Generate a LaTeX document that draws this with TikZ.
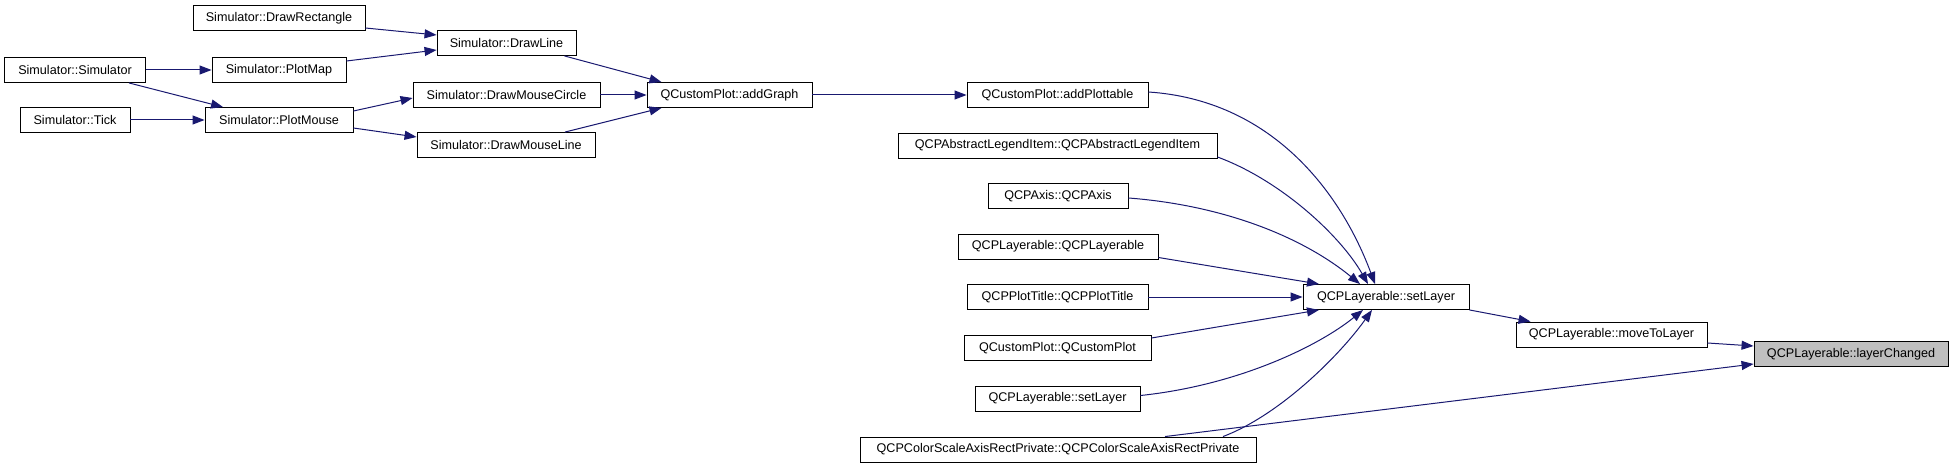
\documentclass[tikz,border=0pt]{standalone}
\usepackage{fontspec}
\setmainfont{Liberation Sans}
\usetikzlibrary{arrows.meta}
\definecolor{edgecol}{HTML}{191970}
\definecolor{rootfill}{HTML}{BFBFBF}
\tikzset{
  fn/.style={draw=black, fill=white, line width=0.9pt, minimum height=25pt, inner sep=0pt,
    font=\fontsize{12.6}{14}\selectfont},
  edge/.style={draw=edgecol, line width=1pt, -{Triangle[length=12pt,width=9pt]}},
}
\begin{document}
\begin{tikzpicture}[x=1pt,y=-1pt]
\useasboundingbox (0,0) rectangle (1953,468);
% nodes
\node[fn, minimum width=172pt] (DR) at (279,18) {Simulator::DrawRectangle};
\node[fn, minimum width=139pt] (DL) at (506.5,43) {Simulator::DrawLine};
\node[fn, minimum width=141pt] (SS) at (75,70) {Simulator::Simulator};
\node[fn, minimum width=134pt] (PM) at (279,70) {Simulator::PlotMap};
\node[fn, minimum width=187pt] (DMC) at (506.5,95) {Simulator::DrawMouseCircle};
\node[fn, minimum width=110pt] (TK) at (75,120) {Simulator::Tick};
\node[fn, minimum width=148pt] (PMo) at (279,120) {Simulator::PlotMouse};
\node[fn, minimum width=178pt] (DML) at (506,145) {Simulator::DrawMouseLine};
\node[fn, minimum width=165pt] (AG) at (729.5,95) {QCustomPlot::addGraph};
\node[fn, minimum width=181pt] (AP) at (1057.5,95) {QCustomPlot::addPlottable};
\node[fn, minimum width=319pt] (LI) at (1057.5,145.5) {QCPAbstractLegendItem::QCPAbstractLegendItem};
\node[fn, minimum width=140pt] (AX) at (1058,196) {QCPAxis::QCPAxis};
\node[fn, minimum width=200pt] (QL) at (1058,246.5) {QCPLayerable::QCPLayerable};
\node[fn, minimum width=181pt] (PT) at (1057.5,297) {QCPPlotTitle::QCPPlotTitle};
\node[fn, minimum width=166pt] (SL) at (1386,297) {QCPLayerable::setLayer};
\node[fn, minimum width=187pt] (QC) at (1057.5,348) {QCustomPlot::QCustomPlot};
\node[fn, minimum width=165pt] (SL2) at (1057.5,398.5) {QCPLayerable::setLayer};
\node[fn, minimum width=396pt] (CS) at (1058,449.5) {QCPColorScaleAxisRectPrivate::QCPColorScaleAxisRectPrivate};
\node[fn, minimum width=191pt] (MTL) at (1611.5,334.5) {QCPLayerable::moveToLayer};
\node[fn, minimum width=194pt, fill=rootfill] (LC) at (1851,354) {QCPLayerable::layerChanged};
% edges
\draw[edge] ([yshift=-10pt]DR.east) -- ([yshift=8pt]DL.west);
\draw[edge] ([yshift=9pt]PM.east) -- ([yshift=-7pt]DL.west);
\draw[edge] (SS.east) -- (PM.west);
\draw[edge] ([xshift=54pt]SS.south) -- ([xshift=-56pt]PMo.north);
\draw[edge] (TK.east) -- (PMo.west);
\draw[edge] ([yshift=9pt]PMo.east) -- ([yshift=-3pt]DMC.west);
\draw[edge] ([yshift=-8pt]PMo.east) -- ([yshift=8pt]DML.west);
\draw[edge] ([xshift=58pt]DL.south) -- ([xshift=-68pt]AG.north);
\draw[edge] (DMC.east) -- (AG.west);
\draw[edge] ([xshift=59pt]DML.north) -- ([xshift=-68pt]AG.south);
\draw[edge] (AG.east) -- (AP.west);
\draw[edge] ([yshift=3pt]AP.east) .. controls (1270,100) and (1340,190) .. ([xshift=-11pt]SL.north);
\draw[edge] ([yshift=-11.5pt]LI.east) .. controls (1280,180) and (1340,235) .. ([xshift=-18pt]SL.north);
\draw[edge] ([yshift=-2pt]AX.east) .. controls (1220,205) and (1300,235) .. ([xshift=-26pt]SL.north);
\draw[edge] ([yshift=-11pt]QL.east) -- ([xshift=-67pt]SL.north);
\draw[edge] (PT.east) -- (SL.west);
\draw[edge] ([yshift=10pt]QC.east) -- ([xshift=-67pt]SL.south);
\draw[edge] ([yshift=3pt]SL2.east) .. controls (1240,385) and (1320,345) .. ([xshift=-23pt]SL.south);
\draw[edge] ([xshift=165pt]CS.north) .. controls (1280,415) and (1340,355) .. ([xshift=-14pt]SL.south);
\draw[edge] (SL.south east) -- ([xshift=-81pt]MTL.north);
\draw[edge] ([yshift=-8.5pt]MTL.east) -- ([yshift=8pt]LC.west);
\draw[edge] ([xshift=107pt]CS.north) -- ([yshift=-10pt]LC.west);
\end{tikzpicture}
\end{document}
